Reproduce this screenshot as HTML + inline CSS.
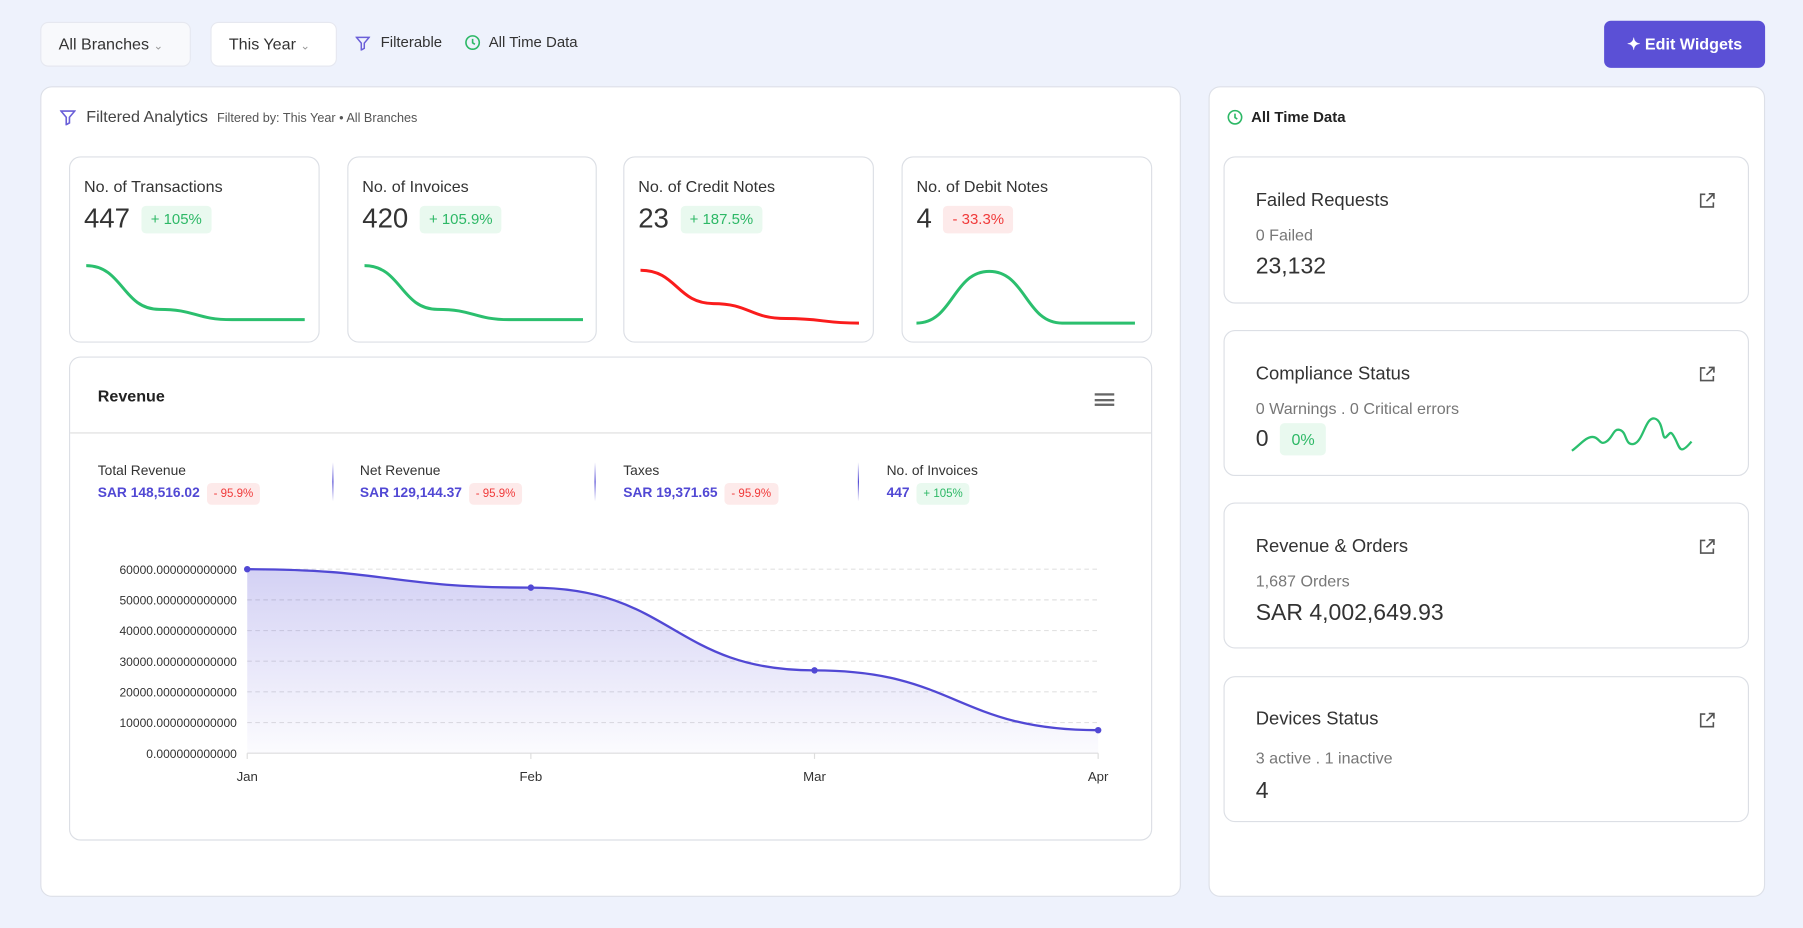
<!DOCTYPE html>
<html><head><meta charset="utf-8"><style>
*{box-sizing:border-box;margin:0;padding:0}
html,body{width:1803px;height:928px;overflow:hidden;background:#eef2fc;font-family:"Liberation Sans",sans-serif;color:#333}
#root{position:absolute;left:0;top:0;width:1568px;height:807px;transform:scale(1.1499);transform-origin:0 0}
.abs{position:absolute}
.dd{position:absolute;top:19px;height:39px;border:1px solid #e6e8f0;border-radius:7px;font-size:14px;line-height:37px;padding-left:15px;color:#333}
.panel{position:absolute;background:#fff;border:1px solid #dde0e8;border-radius:10px}
.card{position:absolute;background:#fff;border:1px solid #dcdfe5;border-radius:10px}
.badge{display:inline-block;border-radius:4px;padding:0 8px;font-size:13px;line-height:24px}
.g{background:#e9f9ef;color:#2db866}.r{background:#fdeaea;color:#f03a3a}
.ct{position:absolute;left:12px;top:17px;font-size:14px;color:#333}
.cn{position:absolute;left:12px;top:40px;font-size:24px;color:#333;display:flex;align-items:center;gap:10px}
.rt{position:absolute;left:27px;font-size:16px;color:#333}
.rs{position:absolute;left:27px;font-size:14px;color:#777}
.rv{position:absolute;left:27px;font-size:20px;color:#333}
.ext{position:absolute;right:28px;top:30px;width:15px;height:15px}
.st{position:absolute;top:402px;font-size:12px;color:#333}
.st b{display:block;margin-top:4px;font-size:12px;color:#5148d4;font-weight:bold}
.st .badge{font-size:10px;line-height:19px;padding:0 6px;margin-left:6px;font-weight:normal}
.vd{position:absolute;top:402px;width:1px;height:34px;background:linear-gradient(#fff,#5148d4,#fff)}
</style></head><body>
<div id="root">
<div class="dd" style="left:35px;width:131px;background:#f8f9fc">All Branches <span style="color:#999;font-size:10px">&#8964;</span></div>
<div class="dd" style="left:183px;width:110px;background:#fff">This Year <span style="color:#999;font-size:10px">&#8964;</span></div>
<svg class="abs" style="left:309px;top:31px" width="13" height="13" viewBox="0 0 13 13"><path d="M1 1.5h11l-4.2 5v4.5l-2.6 1.5v-6z" fill="none" stroke="#6a5fd8" stroke-width="1.3"/></svg>
<div class="abs" style="left:331px;top:29px;font-size:13px">Filterable</div>
<svg class="abs" style="left:404px;top:30px" width="14" height="14" viewBox="0 0 14 14"><circle cx="7" cy="7" r="5.8" fill="none" stroke="#2db866" stroke-width="1.4"/><path d="M7 3.8v3.4l2 1.3" fill="none" stroke="#2db866" stroke-width="1.4"/></svg>
<div class="abs" style="left:425px;top:29px;font-size:13px">All Time Data</div>
<div class="abs" style="left:1395px;top:18px;width:140px;height:41px;background:#5b50d6;border-radius:6px;color:#fff;font-size:14px;font-weight:bold;line-height:41px;text-align:center">&#10022; Edit Widgets</div>

<div class="panel" style="left:35px;top:75px;width:992px;height:705px">
 <svg class="abs" style="left:16px;top:19px" width="14" height="14" viewBox="0 0 13 13"><path d="M1 1.5h11l-4.2 5v4.5l-2.6 1.5v-6z" fill="none" stroke="#6a5fd8" stroke-width="1.3"/></svg>
 <div class="abs" style="left:39px;top:17px;font-size:14px;color:#444">Filtered Analytics <span style="font-size:11px;color:#555;margin-left:4px">Filtered by: This Year • All Branches</span></div>
</div>

<div class="card" style="left:60px;top:136px;width:218px;height:162px"><div class="ct">No. of Transactions</div><div class="cn">447 <span class="badge g">+ 105%</span></div><svg class="abs spark" style="left:12px;top:88px" width="194" height="60" data-c="#2bbf6e" data-s="0" data-b="53"></svg></div>
<div class="card" style="left:302px;top:136px;width:217px;height:162px"><div class="ct">No. of Invoices</div><div class="cn">420 <span class="badge g">+ 105.9%</span></div><svg class="abs spark" style="left:12px;top:88px" width="194" height="60" data-c="#2bbf6e" data-s="1" data-b="53"></svg></div>
<div class="card" style="left:542px;top:136px;width:218px;height:162px"><div class="ct">No. of Credit Notes</div><div class="cn">23 <span class="badge g">+ 187.5%</span></div><svg class="abs spark" style="left:12px;top:88px" width="194" height="60" data-c="#fa1c1c" data-s="2" data-b="56"></svg></div>
<div class="card" style="left:784px;top:136px;width:218px;height:162px"><div class="ct">No. of Debit Notes</div><div class="cn">4 <span class="badge r">- 33.3%</span></div><svg class="abs spark" style="left:10px;top:88px" width="194" height="60" data-c="#2bbf6e" data-s="3" data-b="56"></svg></div>

<div class="card" style="left:60px;top:310px;width:942px;height:421px">
 <div class="abs" style="left:24px;top:25px;font-size:14px;font-weight:bold;color:#222">Revenue</div>
 <div class="abs" style="left:891px;top:31px;width:17px;height:11px;border-top:2px solid #666;border-bottom:2px solid #666"><div style="margin-top:2.5px;height:2px;background:#666"></div></div>
 <div class="abs" style="left:0;top:65px;width:940px;height:1px;background:#ddd"></div>
</div>
<div class="st" style="left:85px">Total Revenue<b>SAR 148,516.02<span class="badge r">- 95.9%</span></b></div>
<div class="vd" style="left:289px"></div>
<div class="st" style="left:313px">Net Revenue<b>SAR 129,144.37<span class="badge r">- 95.9%</span></b></div>
<div class="vd" style="left:517px"></div>
<div class="st" style="left:542px">Taxes<b>SAR 19,371.65<span class="badge r">- 95.9%</span></b></div>
<div class="vd" style="left:746px"></div>
<div class="st" style="left:771px">No. of Invoices<b>447<span class="badge g">+ 105%</span></b></div>

<svg id="chart" class="abs" style="left:0;top:0" width="1030" height="700"></svg>

<div class="panel" style="left:1051px;top:75px;width:484px;height:705px">
 <svg class="abs" style="left:15px;top:19px" width="14" height="14" viewBox="0 0 14 14"><circle cx="7" cy="7" r="5.8" fill="none" stroke="#2db866" stroke-width="1.4"/><path d="M7 3.8v3.4l2 1.3" fill="none" stroke="#2db866" stroke-width="1.4"/></svg>
 <div class="abs" style="left:36px;top:18px;font-size:13px;font-weight:bold;color:#222">All Time Data</div>
</div>
<div class="card" style="left:1064px;top:136px;width:457px;height:128px"><div class="rt" style="top:29px">Failed Requests</div><div class="rs" style="top:59px">0 Failed</div><div class="rv" style="top:84px">23,132</div><svg class="ext" viewBox="0 0 15 15"><path d="M6 2H2v11h11V9M9 1.5h4.5V6M13.5 1.5L7 8" fill="none" stroke="#555" stroke-width="1.4"/></svg></div>
<div class="card" style="left:1064px;top:287px;width:457px;height:127px"><div class="rt" style="top:29px">Compliance Status</div><div class="rs" style="top:59px">0 Warnings . 0 Critical errors</div><div class="rv" style="top:80px;display:flex;gap:10px;align-items:center">0 <span class="badge g" style="font-size:14px;line-height:28px;padding:0 10px">0%</span></div><svg class="ext" viewBox="0 0 15 15"><path d="M6 2H2v11h11V9M9 1.5h4.5V6M13.5 1.5L7 8" fill="none" stroke="#555" stroke-width="1.4"/></svg>
<svg class="abs" style="left:300px;top:70px" width="110" height="40"><path d="M2 34C10 28 14 22 20 22S26 30 32 26 38 14 44 16 48 30 56 28 66 4 74 6 80 26 84 22 88 16 92 24 96 38 106 26" fill="none" stroke="#2bbf6e" stroke-width="2"/></svg></div>
<div class="card" style="left:1064px;top:437px;width:457px;height:127px"><div class="rt" style="top:29px">Revenue &amp; Orders</div><div class="rs" style="top:59px">1,687 Orders</div><div class="rv" style="top:84px">SAR 4,002,649.93</div><svg class="ext" viewBox="0 0 15 15"><path d="M6 2H2v11h11V9M9 1.5h4.5V6M13.5 1.5L7 8" fill="none" stroke="#555" stroke-width="1.4"/></svg></div>
<div class="card" style="left:1064px;top:588px;width:457px;height:127px"><div class="rt" style="top:28px">Devices Status</div><div class="rs" style="top:62px">3 active . 1 inactive</div><div class="rv" style="top:88px">4</div><svg class="ext" viewBox="0 0 15 15"><path d="M6 2H2v11h11V9M9 1.5h4.5V6M13.5 1.5L7 8" fill="none" stroke="#555" stroke-width="1.4"/></svg></div>
</div>
<script>
const months=["Jan","Feb","Mar","Apr"];
const revenue=[60000,54000,27000,7500];
const yTicks=[0,10000,20000,30000,40000,50000,60000];
const spark0=[47,9,0,0];
const spark1=[47,9,0,0];
const spark2=[46,17,4,0];
const spark3=[0,45,0,0];
const sparks=[spark0,spark1,spark2,spark3];
const NS="http://www.w3.org/2000/svg";
function mk(t,a,p){const e=document.createElementNS(NS,t);for(const k in a)e.setAttribute(k,a[k]);p.appendChild(e);return e}
function smooth(pts){let d="M"+pts[0][0]+" "+pts[0][1];for(let i=1;i<pts.length;i++){const a=pts[i-1],b=pts[i],m=(b[0]-a[0])/2;d+=" C"+(a[0]+m)+" "+a[1]+" "+(b[0]-m)+" "+b[1]+" "+b[0]+" "+b[1]}return d}
document.querySelectorAll(".spark").forEach(s=>{const data=sparks[+s.dataset.s];const b=+s.dataset.b;const pts=data.map((v,i)=>[2+i*190/(data.length-1),b-v]);
const p=mk("path",{d:smooth(pts),fill:"none",stroke:s.dataset.c,"stroke-width":2.6},s);

});
const svg=document.getElementById("chart");
const x0=215,x1=955,yb=655,yt=495,ymax=60000;
const X=i=>x0+i*(x1-x0)/(months.length-1);
const Y=v=>yb-v/ymax*(yb-yt);
const defs=mk("defs",{},svg);const lg=mk("linearGradient",{id:"ga",x1:0,y1:0,x2:0,y2:1},defs);
mk("stop",{offset:0,"stop-color":"#5148d4","stop-opacity":0.25},lg);mk("stop",{offset:1,"stop-color":"#5148d4","stop-opacity":0.02},lg);
yTicks.forEach(v=>{
 const l=mk("line",{x1:x0,x2:x1,y1:Y(v),y2:Y(v),stroke:v?"#e2e2e2":"#ddd","stroke-dasharray":v?"4 3":"none"},svg);
 
 
 const t=mk("text",{x:206,y:Y(v)+4,"text-anchor":"end","font-size":10.5,fill:"#333","font-family":"Liberation Sans"},svg);t.textContent=v.toFixed(12);
 
 
});
months.forEach((m,i)=>{mk("line",{x1:X(i),x2:X(i),y1:yb,y2:yb+5,stroke:"#ddd"},svg);
 const t=mk("text",{x:X(i),y:679,"text-anchor":"middle","font-size":11.5,fill:"#333","font-family":"Liberation Sans"},svg);t.textContent=m;
 
 });
const pts=revenue.map((v,i)=>[X(i),Y(v)]);const d=smooth(pts);
const area=mk("path",{d:d+" L"+X(months.length-1)+" "+yb+" L"+x0+" "+yb+"Z",fill:"url(#ga)"},svg);


const ln=mk("path",{d:d,fill:"none",stroke:"#5148d4","stroke-width":2},svg);


pts.forEach(p=>{const c=mk("circle",{cx:p[0],cy:p[1],r:2.8,fill:"#5148d4"},svg);
 
 });
</script>
</body></html>
